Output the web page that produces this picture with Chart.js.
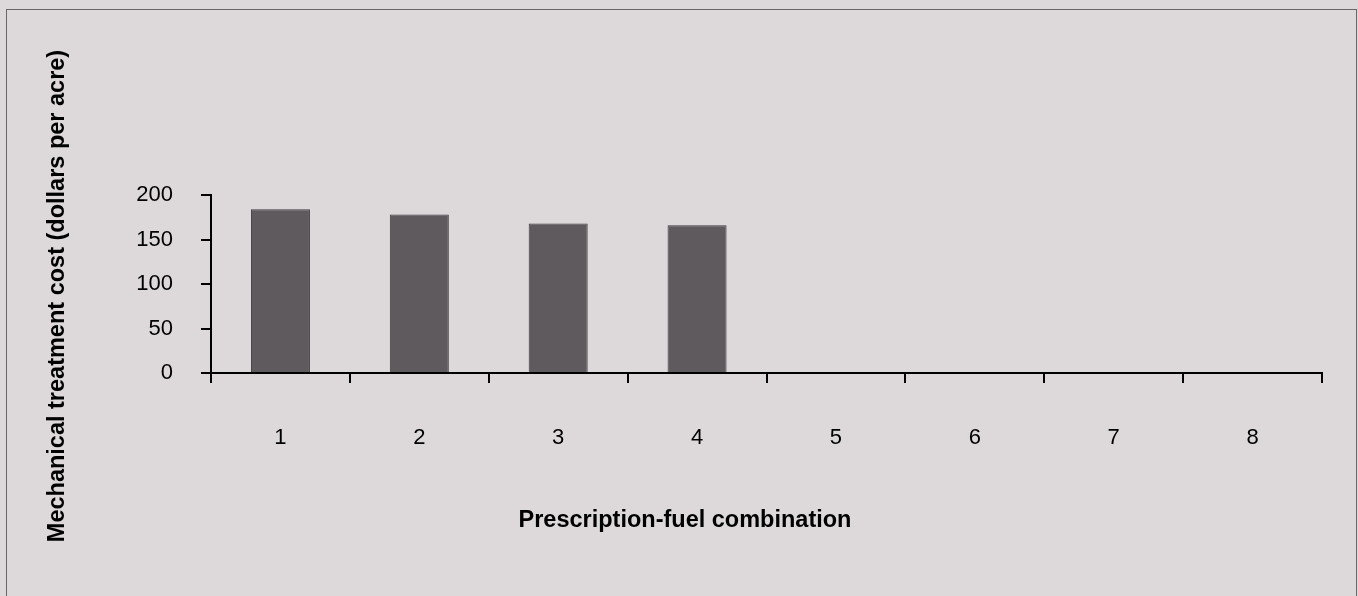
<!DOCTYPE html>
<html>
<head>
<meta charset="utf-8">
<script src="https://cdn.jsdelivr.net/npm/chart.js@4"></script>
<style>
  html, body { margin: 0; padding: 0; background: #ddd9db; }
  #wrap { width: 1358px; height: 596px; position: relative; }
</style>
</head>
<body>
<div id="wrap"><canvas id="bar-chart"></canvas></div>
<script>
const categories = ["1", "2", "3", "4", "5", "6", "7", "8"];
const costs = [184, 178, 168, 166, 0, 0, 0, 0];
const yTicks = [0, 50, 100, 150, 200];
const xTitle = "Prescription-fuel combination";
const yTitle = "Mechanical treatment cost (dollars per acre)";

// thin frame round the figure, like the scanned original
const frame = {
    id: "frame",
    beforeDraw(chart) {
        const ctx = chart.ctx;
        ctx.save();
        ctx.fillStyle = "#ddd9db";
        ctx.fillRect(0, 0, chart.width, chart.height);
        ctx.strokeStyle = "#6a6668";
        ctx.lineWidth = 1;
        ctx.strokeRect(6.5, 9.5, chart.width - 8, chart.height + 20);
        ctx.restore();
    },
};

// axis titles sit off-centre from the plot area in the original, so place them by hand
const axisTitles = {
    id: "axisTitles",
    afterDraw(chart) {
        const ctx = chart.ctx;
        ctx.save();
        ctx.fillStyle = "#000";
        ctx.font = "bold 23.5px 'Liberation Sans', Arial";
        ctx.textAlign = "center";
        ctx.textBaseline = "middle";
        ctx.fillText(xTitle, 685, 521);
        ctx.translate(58, 296);
        ctx.rotate(-Math.PI / 2);
        ctx.fillText(yTitle, 0, 0);
        ctx.restore();
    },
};

new Chart(document.getElementById("bar-chart"), {
    type: "bar",
    data: {
        labels: categories,
        datasets: [
            {
                data: costs,
                backgroundColor: "#5e5a5e",
                borderColor: "#3e3a3d",
                borderWidth: 1,
                barPercentage: 0.425,
                categoryPercentage: 1,
            },
        ],
    },
    options: {
        responsive: true,
        maintainAspectRatio: false,
        animation: false,
        layout: {
            padding: { top: 195, right: 36, bottom: 0, left: 0 },
        },
        scales: {
            x: {
                afterFit: (scale) => { scale.height = 223; },
                border: { color: "#000", width: 2 },
                grid: {
                    drawOnChartArea: false,
                    drawTicks: true,
                    tickLength: 10,
                    color: "#000",
                    lineWidth: 2,
                },
                ticks: {
                    color: "#000",
                    padding: 42,
                    font: { family: "Liberation Sans, Arial", size: 22 },
                },
            },
            y: {
                min: 0,
                max: 200,
                afterFit: (scale) => { scale.width = 211; },
                afterBuildTicks: (scale) => {
                    scale.ticks = yTicks.map((v) => ({ value: v }));
                },
                border: { color: "#000", width: 2 },
                grid: {
                    drawOnChartArea: false,
                    drawTicks: true,
                    tickLength: 10,
                    color: "#000",
                    lineWidth: 2,
                },
                ticks: {
                    color: "#000",
                    padding: 28,
                    font: { family: "Liberation Sans, Arial", size: 22 },
                },
            },
        },
        plugins: {
            legend: { display: false },
            tooltip: { enabled: false },
        },
    },
    plugins: [frame, axisTitles],
});
</script>
</body>
</html>
